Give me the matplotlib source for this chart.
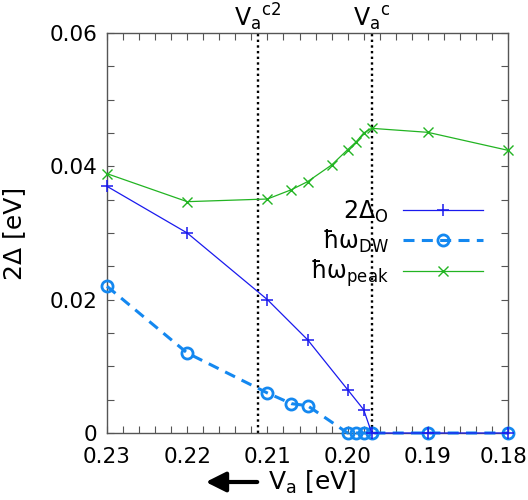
#!/usr/bin/env python3
"""Gap vs V_a: 2Delta_O, hbar*omega_DW and hbar*omega_peak."""

import matplotlib
matplotlib.use("Agg")
import matplotlib.pyplot as plt
from matplotlib.patches import FancyArrowPatch
from matplotlib.transforms import ScaledTranslation
from matplotlib.ticker import MultipleLocator, FuncFormatter

plt.rcParams["font.family"] = ["DejaVu Sans"]
plt.rcParams["mathtext.fontset"] = "dejavusans"
plt.rcParams["mathtext.default"] = "regular"

# ---------------------------------------------------------------------------
# Data
# ---------------------------------------------------------------------------
va_gap = [0.23, 0.22, 0.21, 0.205, 0.20, 0.198, 0.197, 0.19, 0.18]
gap_o = [0.0370, 0.0300, 0.0200, 0.0140, 0.0065, 0.0035, 0.0, 0.0, 0.0]

va_dw = [0.23, 0.22, 0.21, 0.207, 0.205, 0.20, 0.199, 0.198, 0.197, 0.19, 0.18]
omega_dw = [0.0220, 0.0120, 0.0060, 0.0044, 0.0041, 0.0, 0.0, 0.0, 0.0, 0.0, 0.0]

va_peak = [0.23, 0.22, 0.21, 0.207, 0.205, 0.202, 0.20, 0.199, 0.198, 0.197, 0.19, 0.18]
omega_peak = [0.0389, 0.0347, 0.0351, 0.0365, 0.0377, 0.0402, 0.0425, 0.0436, 0.0450, 0.0457, 0.0451, 0.0424]

va_c2 = 0.2112
va_c = 0.197

x_ticks = [0.23, 0.22, 0.21, 0.20, 0.19, 0.18]
x_ticklabels = ["0.23", "0.22", "0.21", "0.20", "0.19", "0.18"]

# ---------------------------------------------------------------------------
# Plot
# ---------------------------------------------------------------------------
fig = plt.figure(figsize=(5.28, 5.0), dpi=100)
ax = fig.add_axes([0.2027, 0.134, 0.7595, 0.80])

ax.axvline(va_c2, color="black", linestyle=(0, (1, 1.4)), linewidth=1.7, zorder=2)
ax.axvline(va_c, color="black", linestyle=(0, (1, 1.4)), linewidth=1.7, zorder=2)

ax.plot(va_gap, gap_o, color="#1a1aee", marker="+", markersize=8,
        markeredgewidth=1.1, linewidth=0.9, label=r"$2\Delta_O$", zorder=4,
        clip_on=False)
ax.plot(va_dw, omega_dw, color="#1488f0", marker="o", markersize=8,
        markerfacecolor="none", markeredgewidth=2.0, linewidth=2.2,
        linestyle=(0, (3.6, 2.4)), label=r"$\hbar\omega_{DW}$", zorder=3,
        clip_on=False)
ax.plot(va_peak, omega_peak, color="#22b422", marker="x", markersize=7.5,
        markeredgewidth=1.0, linewidth=0.9, label=r"$\hbar\omega_{peak}$", zorder=4,
        clip_on=False)

ax.set_xlim(0.23, 0.18)
ax.set_ylim(0, 0.06)

ax.set_xticks(x_ticks)
ax.set_xticklabels(x_ticklabels)
ax.xaxis.set_minor_locator(MultipleLocator(0.002))
ax.yaxis.set_major_locator(MultipleLocator(0.02))
ax.yaxis.set_minor_locator(MultipleLocator(0.005))
ax.yaxis.set_major_formatter(FuncFormatter(lambda v, p: "0" if abs(v) < 1e-9 else f"{v:.2f}"))

ax.tick_params(which="both", direction="in", top=True, right=True,
               length=5, width=0.8, color="#555555")
ax.tick_params(axis="x", which="major", labelsize=15.5, pad=10)
ax.tick_params(axis="y", which="major", labelsize=15.5, pad=7)
for s in ax.spines.values():
    s.set_color("#555555")
    s.set_linewidth(1.0)

# last x label sits a little to the left, as in the original
last = ax.get_xticklabels()[-1]
last.set_transform(last.get_transform() + ScaledTranslation(-0.04, 0, fig.dpi_scale_trans))

ax.set_ylabel("2Δ [eV]", fontsize=18, labelpad=17)

# critical voltage labels above the frame
for xv, lab in [(va_c2, r"$V_a{}^{c2}$"), (va_c, r"$V_a{}^{c}$")]:
    ax.text(xv, 0.999, lab, transform=ax.get_xaxis_transform(),
            ha="center", va="bottom", fontsize=17)

# x label with arrow pointing to the left
fig.text(268 / 528, 18 / 500, r"$V_a$ [eV]", ha="left", va="center", fontsize=18)
fig.add_artist(FancyArrowPatch(
    (260 / 528, 18 / 500), (203 / 528, 18 / 500), transform=fig.transFigure,
    arrowstyle="-|>,head_length=0.6,head_width=0.3", mutation_scale=20,
    color="black", linewidth=3))

leg = ax.legend(loc="center right", bbox_to_anchor=(0.938, 0.4725), frameon=False,
                markerfirst=False, fontsize=17, handlelength=3.4,
                labelspacing=0.12, handletextpad=0.6, borderaxespad=0, borderpad=0)

fig.savefig("out.png", dpi=100)
